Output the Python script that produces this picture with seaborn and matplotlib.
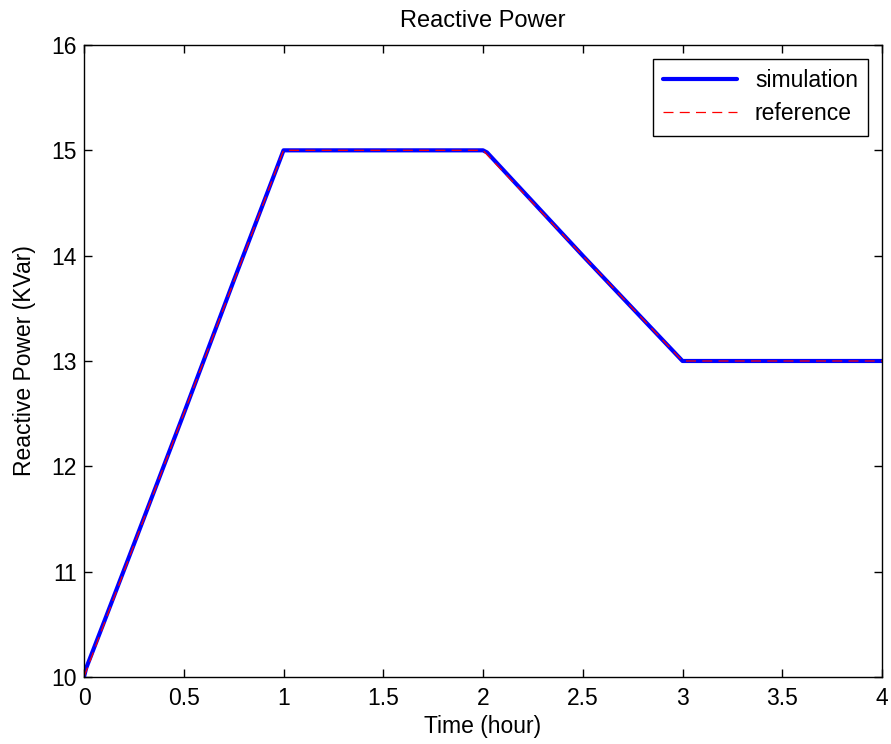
import pandas as pd
import matplotlib
matplotlib.use("Agg")
import matplotlib.pyplot as plt
import seaborn as sns

# values
sim_t = [0, 0.01, 0.1, 0.25, 0.5, 0.75, 0.98, 1.0, 2.0, 2.02, 2.5, 3.0, 4.0]
sim_q = [10.0, 10.08, 10.52, 11.26, 12.5, 13.76, 14.9, 15.0, 15.0, 14.98, 14.0, 13.0, 13.0]
ref_t = [0, 1, 2, 3, 4]
ref_q = [10, 15, 15, 13, 13]

x_ticks = [0, 0.5, 1, 1.5, 2, 2.5, 3, 3.5, 4]
x_labels = ["0", "0.5", "1", "1.5", "2", "2.5", "3", "3.5", "4"]
y_ticks = [10, 11, 12, 13, 14, 15, 16]

sim = pd.DataFrame({"t": sim_t, "q": sim_q})
ref = pd.DataFrame({"t": ref_t, "q": ref_q})

sns.set_style("white")
plt.rcParams["font.family"] = ["Liberation Sans", "DejaVu Sans"]
plt.rcParams["text.color"] = "black"
plt.rcParams["axes.labelcolor"] = "black"

fig = plt.figure(figsize=(8.91, 7.44), dpi=100)
ax = fig.add_axes([0.0943, 0.0901, 0.8956, 0.8494])

sns.lineplot(data=sim, x="t", y="q", ax=ax, color="blue", linewidth=3, label="simulation")
sns.lineplot(data=ref, x="t", y="q", ax=ax, color="red", linewidth=0.9, label="reference")
ax.lines[1].set_dashes([8, 5])

ax.set_xlim(0, 4)
ax.set_ylim(10, 16)
ax.set_xticks(x_ticks)
ax.set_xticklabels(x_labels)
ax.set_yticks(y_ticks)
ax.tick_params(direction="in", length=6, width=1, labelsize=16.5, top=True, right=True,
               bottom=True, left=True, colors="black")
ax.tick_params(axis="x", pad=7)
ax.tick_params(axis="y", pad=5)
for s in ax.spines.values():
    s.set_color("black")
    s.set_linewidth(1)

ax.set_xlabel("Time (hour)", fontsize=16.5, labelpad=4)
ax.set_ylabel("Reactive Power (KVar)", fontsize=16.5, labelpad=11)
ax.set_title("Reactive Power", fontsize=17, pad=13)

leg = ax.legend(loc="upper right", fontsize=16.5, fancybox=False, framealpha=1,
                edgecolor="black", borderaxespad=0.6, handlelength=3.2,
                borderpad=0.45, labelspacing=0.45)
leg.get_frame().set_linewidth(1)

fig.savefig("out.png", dpi=100)
